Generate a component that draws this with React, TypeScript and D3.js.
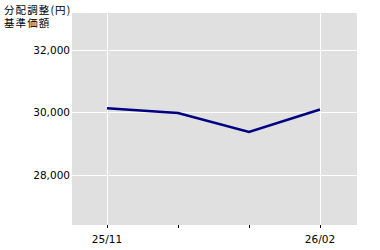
import React from "react";
import * as d3 from "d3";

const categories = ["25/11", "25/12", "26/01", "26/02"];
const tickLabels = ["25/11", "", "", "26/02"];
const values = [30132, 29978, 29368, 30090];
const yTicks = [28000, 30000, 32000];
const titleLines = ["分配調整(円)", "基準価額"];

export default function App() {
  const W = 380, H = 250;
  const plot = { left: 72, right: 357, top: 13, bottom: 225 };
  const x = d3.scaleLinear().domain([0, categories.length - 1]).range([107, 320]);
  const y = d3.scaleLinear().domain([26384, 33186]).range([plot.bottom, plot.top]);
  const line = d3.line<number>().x((_, i) => x(i)).y((d) => y(d));
  const font = "'DejaVu Sans', sans-serif";
  return (
    <svg width={W} height={H} style={{ position: "absolute", left: 0, top: 0, background: "#fff" }}>
      <rect x={plot.left} y={plot.top} width={plot.right - plot.left} height={plot.bottom - plot.top} fill="#e0e0e0" />
      {yTicks.map((t) => (
        <g key={t}>
          <line x1={plot.left - 1} x2={plot.right} y1={Math.round(y(t)) + 0.5} y2={Math.round(y(t)) + 0.5} stroke="#fff" strokeWidth={1} shapeRendering="crispEdges" />
          <text x={70} y={y(t) + 4} textAnchor="end" fontFamily={font} fontSize={10.5} fill="#000">{d3.format(",")(t)}</text>
        </g>
      ))}
      {categories.map((c, i) => (
        <g key={c}>
          {tickLabels[i] !== "" && (
            <line x1={Math.round(x(i)) + 0.5} x2={Math.round(x(i)) + 0.5} y1={plot.top} y2={plot.bottom} stroke="#fff" strokeWidth={1} shapeRendering="crispEdges" />
          )}
          <line x1={Math.round(x(i)) + 0.5} x2={Math.round(x(i)) + 0.5} y1={plot.bottom} y2={plot.bottom + 3} stroke="#000" strokeWidth={1} shapeRendering="crispEdges" />
          {tickLabels[i] !== "" && (
            <text x={x(i)} y={243} textAnchor="middle" fontFamily={font} fontSize={10.5} fill="#000">{tickLabels[i]}</text>
          )}
        </g>
      ))}
      <path d={line(values) || ""} fill="none" stroke="#000080" strokeWidth={2.6} strokeLinejoin="miter" />
      {titleLines.map((t, i) => (
        <text key={t} x={4} y={13.5 + i * 13.5} fontFamily="'Noto Sans CJK JP', sans-serif" fontSize={10.5} letterSpacing={1.1} fill="#000">{t}</text>
      ))}
    </svg>
  );
}
